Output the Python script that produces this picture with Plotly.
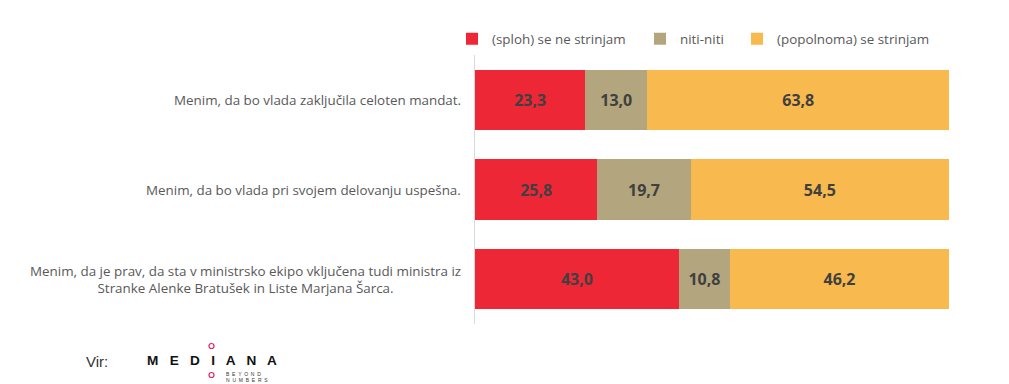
import plotly.graph_objects as go

statements = [
    "Menim, da bo vlada zaključila celoten mandat.",
    "Menim, da bo vlada pri svojem delovanju uspešna.",
    "Menim, da je prav, da sta v ministrsko ekipo vključena tudi ministra iz<br>Stranke Alenke Bratušek in Liste Marjana Šarca.",
]
series_names = ["(sploh) se ne strinjam", "niti-niti", "(popolnoma) se strinjam"]
disagree = [23.3, 25.8, 43.0]
neutral = [13.0, 19.7, 10.8]
agree = [63.8, 54.5, 46.2]
colors = ["#EE2737", "#B3A57D", "#F8B94F"]

# page body has an 8px margin; target screen coordinates are converted below
OFF = 8
W, H = 1009 - OFF, 384 - OFF
L, R, T, B = 475 - OFF, 60, 55 - OFF, 60

def px_x(p):
    return (p - OFF - L) / (W - L - R)

def px_y(p):
    return 1 - (p - OFF - T) / (H - T - B)

cats = ["s1", "s2", "s3"]
legend_ids = ["legend", "legend2", "legend3"]
legend_px = [452, 640, 737]

fig = go.Figure()
for name, vals, col, lid in zip(series_names, [disagree, neutral, agree], colors, legend_ids):
    fig.add_trace(go.Bar(
        y=cats, x=vals, name=name, orientation="h",
        marker=dict(color=col, line=dict(width=0)),
        texttemplate="%{x:.1f}", textposition="inside", insidetextanchor="middle",
        textfont=dict(family="Open Sans", size=16, color="#404040", weight="bold"),
        width=0.67, hoverinfo="skip", legend=lid,
    ))

for c, lab in zip(cats, statements):
    fig.add_annotation(x=0, xref="paper", y=c, yref="y", text=lab, showarrow=False,
                       xanchor="right", xshift=-12, align="center",
                       font=dict(family="Open Sans", size=13.4, color="#595959"))

legend_common = dict(orientation="h", yanchor="middle", xanchor="left",
                     font=dict(family="Open Sans", size=13.4, color="#595959"),
                     itemwidth=30, bgcolor="rgba(0,0,0,0)")

fig.update_layout(
    barmode="stack",
    separators=",.",
    width=W, height=H,
    margin=dict(l=L, r=R, t=T, b=B, autoexpand=False),
    plot_bgcolor="white", paper_bgcolor="white",
    xaxis=dict(range=[0, 100], visible=False),
    yaxis=dict(autorange="reversed", showticklabels=False, showline=True,
               linecolor="#D9D9D9", linewidth=1, showgrid=False, zeroline=False),
    showlegend=True,
    legend=dict(x=px_x(legend_px[0]), y=px_y(39), **legend_common),
    legend2=dict(x=px_x(legend_px[1]), y=px_y(39), **legend_common),
    legend3=dict(x=px_x(legend_px[2]), y=px_y(39), **legend_common),
)

# source line
fig.add_annotation(x=px_x(84), y=px_y(361), xref="paper", yref="paper", text="Vir:",
                   showarrow=False, xanchor="left", yanchor="middle",
                   font=dict(family="Liberation Sans", size=15, color="#333333"))
fig.add_annotation(x=px_x(145), y=px_y(360), xref="paper", yref="paper",
                   text="<b>M   E   D   I   A   N   A</b>",
                   showarrow=False, xanchor="left", yanchor="middle",
                   font=dict(family="Liberation Sans", size=13.6, color="#111111"))
fig.add_annotation(x=px_x(224), y=px_y(374), xref="paper", yref="paper",
                   text="B  E  Y  O  N  D",
                   showarrow=False, xanchor="left", yanchor="middle",
                   font=dict(family="Liberation Sans", size=5, color="#333333"))
fig.add_annotation(x=px_x(224), y=px_y(380), xref="paper", yref="paper",
                   text="N  U  M  B  E  R  S",
                   showarrow=False, xanchor="left", yanchor="middle",
                   font=dict(family="Liberation Sans", size=5, color="#333333"))
for cy in (346, 375):
    fig.add_shape(type="circle", xref="paper", yref="paper",
                  x0=px_x(209), x1=px_x(214), y0=px_y(cy + 2.5), y1=px_y(cy - 2.5),
                  line=dict(color="#E0245E", width=1.2), fillcolor="white")

fig.write_html("out.html")
